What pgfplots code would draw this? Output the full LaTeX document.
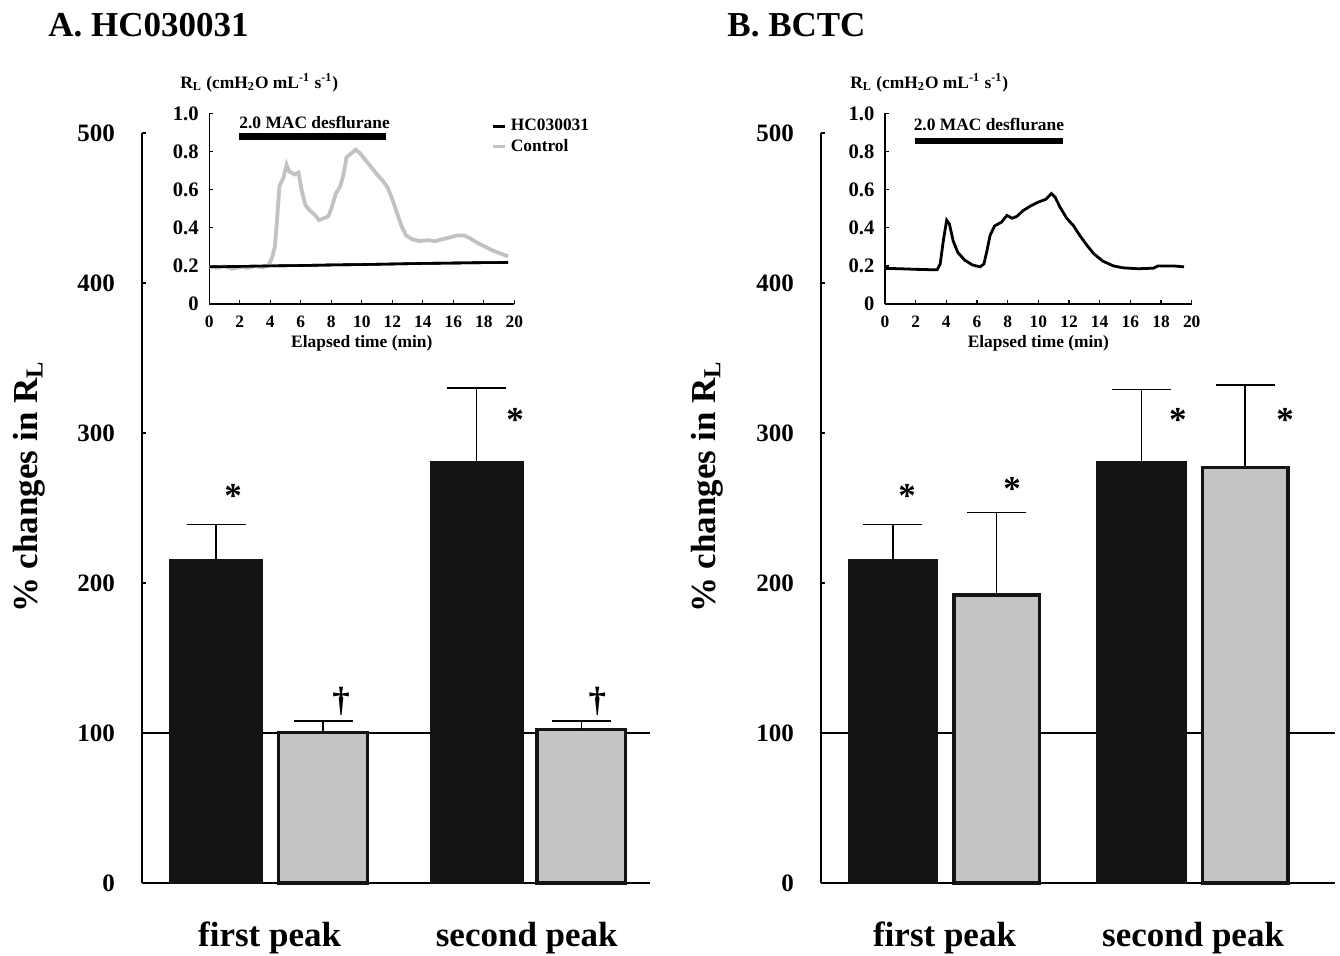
\documentclass[border=0pt]{standalone}
\usepackage{fontspec}
\setmainfont{Liberation Serif}
\usepackage{pgfplots}
\usepackage{pgfplotstable}
\pgfplotsset{compat=1.18}
\definecolor{barblack}{HTML}{141414}
\definecolor{bargray}{HTML}{C3C5C4}
\definecolor{ctrlgray}{HTML}{C2C2C2}
\newcommand\bigf{\fontsize{17.5}{20}\selectfont\bfseries}
\newcommand\tickf{\fontsize{12.5}{14}\selectfont\bfseries}
\newcommand\insf{\fontsize{8.7}{10}\selectfont\bfseries}
\newcommand\insyf{\fontsize{10.3}{12}\selectfont\bfseries}

\pgfplotstableread{
x y
0 0.196
0.5 0.19
1.0 0.198
1.5 0.185
2.0 0.195
2.5 0.19
3.0 0.20
3.5 0.192
3.9 0.205
4.1 0.24
4.3 0.30
4.45 0.45
4.6 0.62
4.85 0.66
5.07 0.73
5.2 0.70
5.35 0.69
5.6 0.68
5.85 0.69
6.05 0.60
6.3 0.52
6.6 0.49
6.9 0.47
7.2 0.44
7.5 0.45
7.8 0.46
8.0 0.50
8.3 0.58
8.6 0.62
8.8 0.68
9.0 0.77
9.3 0.79
9.6 0.81
9.9 0.79
10.2 0.76
10.6 0.72
11.0 0.68
11.4 0.645
11.7 0.61
12.0 0.55
12.3 0.48
12.6 0.41
12.9 0.36
13.3 0.34
13.8 0.33
14.3 0.335
14.8 0.33
15.3 0.34
15.8 0.35
16.3 0.36
16.7 0.36
17.1 0.345
17.6 0.32
18.1 0.30
18.6 0.28
19.1 0.265
19.6 0.25
}\ctrlA

\pgfplotstableread{
x y
0 0.196
2 0.197
4 0.200
6 0.202
8 0.205
10 0.207
12 0.210
14 0.213
16 0.215
18 0.217
19.6 0.218
}\hcA

\pgfplotstableread{
x y
0 0.187
1 0.185
2 0.182
3 0.180
3.4 0.180
3.6 0.21
3.8 0.33
4.02 0.44
4.2 0.42
4.45 0.33
4.75 0.27
5.2 0.23
5.7 0.205
6.2 0.195
6.45 0.21
6.65 0.28
6.85 0.36
7.15 0.41
7.6 0.43
7.95 0.465
8.3 0.45
8.6 0.46
9.0 0.49
9.5 0.515
10.0 0.535
10.5 0.55
10.85 0.58
11.1 0.56
11.4 0.51
11.85 0.45
12.3 0.41
12.7 0.36
13.15 0.31
13.6 0.265
14.2 0.225
14.9 0.20
15.5 0.19
16.5 0.185
17.5 0.188
17.8 0.20
18.8 0.20
19.5 0.195
}\bctcB

\pgfplotsset{
 mainaxis/.style={
  scale only axis, height=375pt, ymin=0, ymax=500,
  axis x line*=bottom, axis y line*=left,
  axis line style={line width=0.6pt, -},
  ytick={0,100,200,300,400,500}, tick align=inside, major tick length=2pt,
  tick style={black, line width=0.6pt},
  xtick={1,2}, xticklabels={first peak, second peak}, xtick style={draw=none},
  xticklabel style={font=\bigf, yshift=-16pt},
  yticklabel style={font=\tickf, xshift=-10pt},
  /pgf/number format/assume math mode=true,
  ylabel={\%\ changes in R\textsubscript{L}},
  ylabel style={font=\bigf, at={(axis description cs:-0.222,0.528)}, anchor=center},
  clip=false, anchor=south west,
 },
 insetaxis/.style={
  scale only axis, height=95.25pt, xmin=0, xmax=20, ymin=0, ymax=1,
  axis x line*=bottom, axis y line*=left,
  axis line style={line width=0.6pt, -},
  xtick={0,2,4,6,8,10,12,14,16,18,20}, ytick={0,0.2,0.4,0.6,0.8,1},
  yticklabels={0,0.2,0.4,0.6,0.8,1.0},
  tick align=inside, major tick length=1.8pt,
  tick style={black, line width=0.6pt},
  xticklabel style={font=\insf, yshift=-2.5pt},
  yticklabel style={font=\insyf, xshift=-1.8pt},
  /pgf/number format/assume math mode=true,
  xlabel={Elapsed time (min)},
  xlabel style={font=\insf, at={(axis description cs:0.5,-0.205)}, anchor=center},
  clip=false, anchor=south west,
 },
 blackbar/.style={ybar, bar width=0.36, bar shift=0, fill=barblack, draw=barblack,
  error bars/.cd, y dir=plus, y explicit,
  error bar style={line width=0.7pt, black},
  error mark options={rotate=90, mark size=14.75pt, line width=0.7pt, black}},
 graybar/.style={ybar, bar width=0.345, bar shift=0, fill=bargray, draw=barblack, line width=1.65pt,
  error bars/.cd, y dir=plus, y explicit,
  error bar style={line width=0.7pt, black},
  error mark options={rotate=90, mark size=14.75pt, line width=0.7pt, black}},
}

\begin{document}
\begin{tikzpicture}
\useasboundingbox (0,0) rectangle (670pt,477.5pt);

% ---------- Panel A main ----------
\begin{axis}[mainaxis, at={(71pt,36pt)}, width=254pt, xmin=0.504, xmax=2.479]
\addplot[black, line width=0.6pt, forget plot] coordinates {(0.504,100) (2.479,100)};
\addplot[blackbar] coordinates {(0.792,216) +- (0,23) (1.805,281) +- (0,49)};
\addplot[graybar] coordinates {(1.208,100.3) +- (0,7.7) (2.212,102.3) +- (0,5.7)};
\node[font=\bigf] at (axis cs:0.858,258) {*};
\node[font=\bigf] at (axis cs:1.955,309) {*};
\node[font=\bigf] at (axis cs:1.278,121) {\textdagger};
\node[font=\bigf] at (axis cs:2.274,121) {\textdagger};
\end{axis}

% ---------- Panel B main ----------
\begin{axis}[mainaxis, at={(410.5pt,36pt)}, width=257pt, xmin=0.503, xmax=2.571]
\addplot[black, line width=0.6pt, forget plot] coordinates {(0.503,100) (2.571,100)};
\addplot[blackbar] coordinates {(0.792,216) +- (0,23) (1.792,281) +- (0,48)};
\addplot[graybar] coordinates {(1.210,192) +- (0,55) (2.209,277) +- (0,55)};
\node[font=\bigf] at (axis cs:0.849,258) {*};
\node[font=\bigf] at (axis cs:1.272,263) {*};
\node[font=\bigf] at (axis cs:1.939,309) {*};
\node[font=\bigf] at (axis cs:2.370,309) {*};
\end{axis}

% ---------- Inset A ----------
\begin{axis}[insetaxis, at={(104.65pt,325.5pt)}, width=152.5pt,
  legend style={at={(axis description cs:0.925,0.995)}, anchor=north west, draw=none, fill=none,
    font=\insf, row sep=-1.2pt, inner sep=0pt,
    /tikz/every even column/.append style={column sep=6.5pt}},
  legend cell align=left,
  legend image code/.code={\draw[#1, line width=1.5pt] (0pt,0pt) -- (6pt,0pt);}]
\addplot[black, line width=3.3pt, forget plot] coordinates {(1.95,0.878) (11.6,0.878)};
\addplot[black, line width=1.3pt] table[x=x,y=y] {\hcA};
\addplot[ctrlgray, line width=1.9pt] table[x=x,y=y] {\ctrlA};
\addplot[black, line width=1.3pt, forget plot] table[x=x,y=y] {\hcA};
\legend{HC030031, Control}
\node[font=\insf, anchor=west, inner sep=0pt] at (axis cs:1.95,0.955) {2.0 MAC desflurane};
\end{axis}

% ---------- Inset B ----------
\begin{axis}[insetaxis, at={(442.5pt,325.5pt)}, width=153.35pt]
\addplot[black, line width=3.3pt] coordinates {(1.96,0.856) (11.6,0.856)};
\addplot[black, line width=1.4pt] table[x=x,y=y] {\bctcB};
\node[font=\insf, anchor=west, inner sep=0pt] at (axis cs:1.85,0.94) {2.0 MAC desflurane};
\end{axis}

% ---------- titles and inset y labels ----------
\node[font=\bigf, anchor=west, inner sep=0pt] at (24pt,465pt) {A. HC030031};
\node[font=\bigf, anchor=west, inner sep=0pt] at (363.5pt,465pt) {B. BCTC};
\node[font=\insf, anchor=west, inner sep=0pt] at (90pt,436pt) {R\textsubscript{L} (cmH\textsubscript{2}O mL\textsuperscript{-1} s\textsuperscript{-1})};
\node[font=\insf, anchor=west, inner sep=0pt] at (425pt,436pt) {R\textsubscript{L} (cmH\textsubscript{2}O mL\textsuperscript{-1} s\textsuperscript{-1})};
\end{tikzpicture}
\end{document}
